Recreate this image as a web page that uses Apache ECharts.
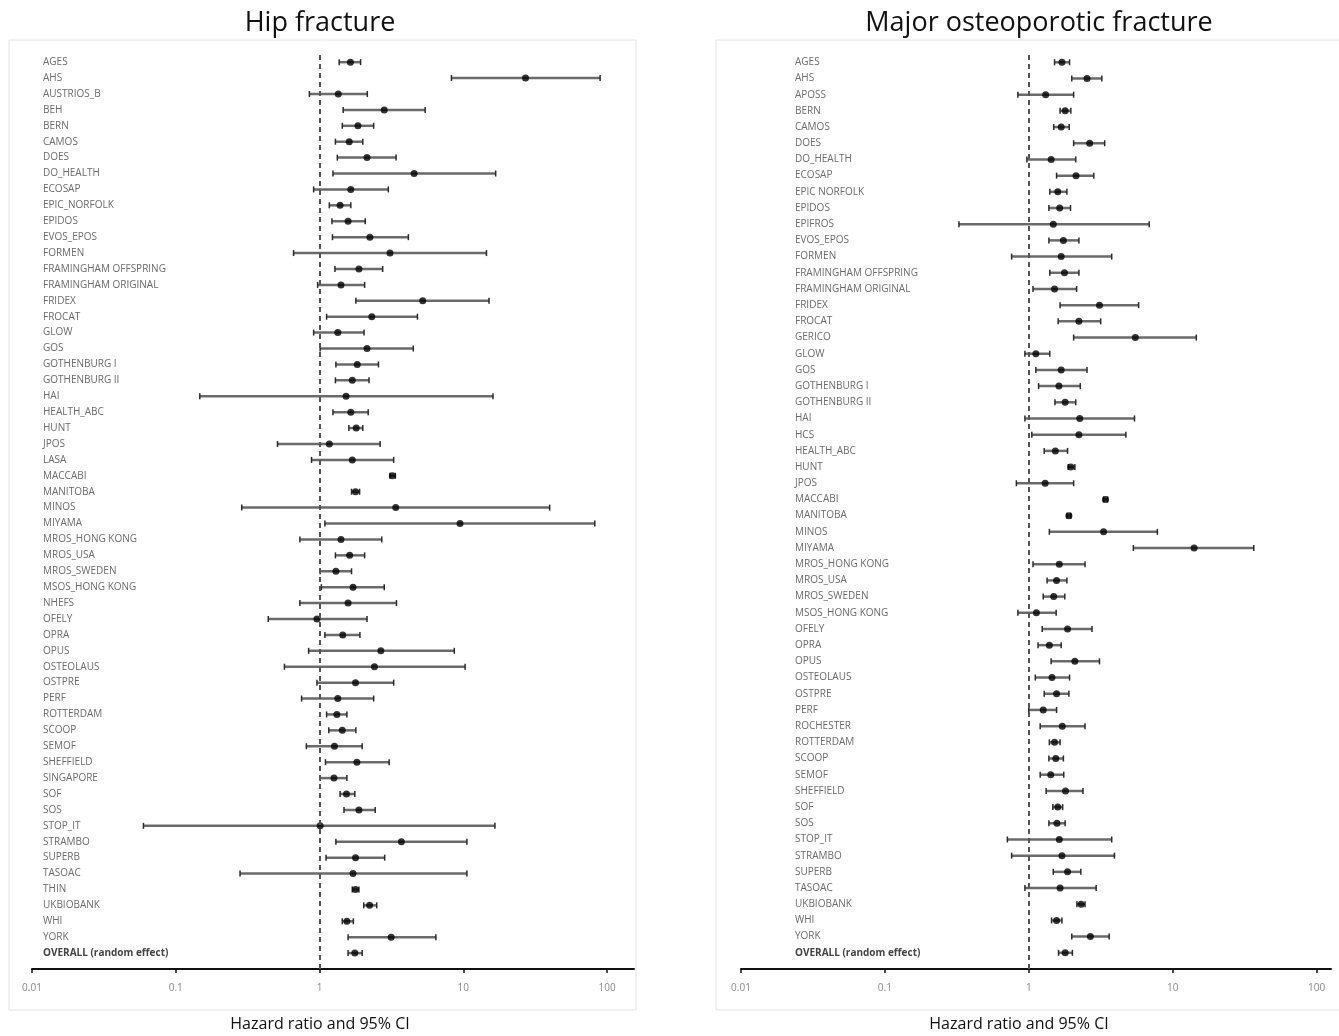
<!DOCTYPE html>
<html>
<head>
<meta charset="utf-8">
<script src="https://cdn.jsdelivr.net/npm/echarts@6/dist/echarts.min.js"></script>
<style>
  html, body { margin: 0; padding: 0; background: #fff; }
  #main { width: 1339px; height: 1036px; }
</style>
</head>
<body>
<div id="main"></div>
<script>
// Hip fracture: study names, hazard ratios and 95% CI
var hipStudies = ['AGES', 'AHS', 'AUSTRIOS_B', 'BEH', 'BERN', 'CAMOS', 'DOES', 'DO_HEALTH', 'ECOSAP', 'EPIC_NORFOLK',
  'EPIDOS', 'EVOS_EPOS', 'FORMEN', 'FRAMINGHAM OFFSPRING', 'FRAMINGHAM ORIGINAL', 'FRIDEX', 'FROCAT', 'GLOW', 'GOS', 'GOTHENBURG I',
  'GOTHENBURG II', 'HAI', 'HEALTH_ABC', 'HUNT', 'JPOS', 'LASA', 'MACCABI', 'MANITOBA', 'MINOS', 'MIYAMA',
  'MROS_HONG KONG', 'MROS_USA', 'MROS_SWEDEN', 'MSOS_HONG KONG', 'NHEFS', 'OFELY', 'OPRA', 'OPUS', 'OSTEOLAUS', 'OSTPRE',
  'PERF', 'ROTTERDAM', 'SCOOP', 'SEMOF', 'SHEFFIELD', 'SINGAPORE', 'SOF', 'SOS', 'STOP_IT', 'STRAMBO',
  'SUPERB', 'TASOAC', 'THIN', 'UKBIOBANK', 'WHI', 'YORK', 'OVERALL (random effect)'];
var hipHR = [1.64, 27.1, 1.35, 2.82, 1.85, 1.61, 2.14, 4.55, 1.65, 1.39,
  1.58, 2.24, 3.09, 1.88, 1.41, 5.22, 2.31, 1.34, 2.14, 1.83,
  1.69, 1.53, 1.65, 1.80, 1.17, 1.69, 3.21, 1.78, 3.39, 9.49,
  1.41, 1.62, 1.30, 1.71, 1.58, 0.96, 1.45, 2.67, 2.41, 1.78,
  1.34, 1.32, 1.44, 1.27, 1.82, 1.26, 1.54, 1.88, 1.01, 3.71,
  1.78, 1.71, 1.78, 2.23, 1.55, 3.15, 1.76];
var hipLow = [1.37, 8.27, 0.85, 1.46, 1.44, 1.29, 1.33, 1.24, 0.91, 1.17,
  1.22, 1.23, 0.66, 1.28, 0.97, 1.79, 1.12, 0.91, 1.01, 1.30,
  1.29, 0.147, 1.24, 1.60, 0.51, 0.88, 3.09, 1.67, 0.288, 1.09,
  0.73, 1.29, 1.01, 1.03, 0.73, 0.44, 1.09, 0.84, 0.57, 0.96,
  0.75, 1.12, 1.16, 0.81, 1.10, 1.01, 1.39, 1.48, 0.0596, 1.30,
  1.11, 0.28, 1.69, 2.03, 1.44, 1.58, 1.58];
var hipHigh = [1.93, 89.5, 2.15, 5.43, 2.38, 2.0, 3.41, 16.8, 3.01, 1.65,
  2.08, 4.15, 14.5, 2.75, 2.06, 15.1, 4.8, 2.04, 4.49, 2.57,
  2.21, 16.1, 2.18, 2.0, 2.64, 3.28, 3.37, 1.90, 39.9, 82.2,
  2.71, 2.06, 1.67, 2.82, 3.43, 2.14, 1.91, 8.66, 10.3, 3.28,
  2.38, 1.55, 1.79, 1.98, 3.05, 1.55, 1.76, 2.44, 16.6, 10.6,
  2.84, 10.6, 1.88, 2.50, 1.72, 6.45, 1.98];

// Major osteoporotic fracture
var mofStudies = ['AGES', 'AHS', 'APOSS', 'BERN', 'CAMOS', 'DOES', 'DO_HEALTH', 'ECOSAP', 'EPIC NORFOLK', 'EPIDOS',
  'EPIFROS', 'EVOS_EPOS', 'FORMEN', 'FRAMINGHAM OFFSPRING', 'FRAMINGHAM ORIGINAL', 'FRIDEX', 'FROCAT', 'GERICO', 'GLOW', 'GOS',
  'GOTHENBURG I', 'GOTHENBURG II', 'HAI', 'HCS', 'HEALTH_ABC', 'HUNT', 'JPOS', 'MACCABI', 'MANITOBA', 'MINOS',
  'MIYAMA', 'MROS_HONG KONG', 'MROS_USA', 'MROS_SWEDEN', 'MSOS_HONG KONG', 'OFELY', 'OPRA', 'OPUS', 'OSTEOLAUS', 'OSTPRE',
  'PERF', 'ROCHESTER', 'ROTTERDAM', 'SCOOP', 'SEMOF', 'SHEFFIELD', 'SOF', 'SOS', 'STOP_IT', 'STRAMBO',
  'SUPERB', 'TASOAC', 'UKBIOBANK', 'WHI', 'YORK', 'OVERALL (random effect)'];
var mofHR = [1.70, 2.54, 1.31, 1.79, 1.68, 2.65, 1.43, 2.13, 1.59, 1.64,
  1.48, 1.74, 1.68, 1.77, 1.51, 3.10, 2.23, 5.50, 1.12, 1.68,
  1.62, 1.79, 2.26, 2.23, 1.53, 1.96, 1.30, 3.41, 1.90, 3.31,
  14.1, 1.63, 1.56, 1.49, 1.13, 1.86, 1.39, 2.09, 1.45, 1.56,
  1.26, 1.71, 1.51, 1.54, 1.42, 1.80, 1.59, 1.57, 1.63, 1.70,
  1.86, 1.65, 2.31, 1.56, 2.68, 1.79];
var mofLow = [1.51, 1.99, 0.84, 1.65, 1.49, 2.05, 0.97, 1.56, 1.40, 1.38,
  0.327, 1.38, 0.76, 1.40, 1.07, 1.65, 1.60, 2.05, 0.94, 1.12,
  1.17, 1.52, 0.94, 1.05, 1.28, 1.88, 0.82, 3.31, 1.84, 1.39,
  5.33, 1.07, 1.34, 1.26, 0.84, 1.24, 1.16, 1.43, 1.11, 1.28,
  1.0, 1.20, 1.39, 1.38, 1.20, 1.32, 1.47, 1.38, 0.71, 0.76,
  1.48, 0.94, 2.16, 1.44, 1.99, 1.61];
var mofHigh = [1.92, 3.22, 2.05, 1.96, 1.91, 3.37, 2.12, 2.83, 1.84, 1.95,
  6.87, 2.23, 3.77, 2.23, 2.15, 5.80, 3.16, 14.6, 1.40, 2.54,
  2.28, 2.12, 5.43, 4.73, 1.86, 2.09, 2.05, 3.53, 1.96, 7.83,
  36.6, 2.46, 1.84, 1.78, 1.55, 2.75, 1.68, 3.10, 1.92, 1.90,
  1.56, 2.46, 1.65, 1.74, 1.75, 2.38, 1.72, 1.79, 3.77, 3.94,
  2.30, 2.94, 2.46, 1.70, 3.62, 2.01];

var panelTitles = ['Hip fracture', 'Major osteoporotic fracture'];
var axisTitle = 'Hazard ratio and 95% CI';

var FONT = '"Open Sans", "DejaVu Sans", sans-serif';
var chart = echarts.init(document.getElementById('main'), null, { renderer: 'canvas' });

function ciItem(params, api) {
  var y = api.value(0);
  var a = api.coord([api.value(1), y]);
  var b = api.coord([api.value(2), y]);
  var h = 3;
  return {
    type: 'group',
    children: [
      { type: 'line', shape: { x1: a[0], y1: a[1], x2: b[0], y2: b[1] }, style: { stroke: '#6a6a6a', lineWidth: 2.5 } },
      { type: 'line', shape: { x1: a[0], y1: a[1] - h, x2: a[0], y2: a[1] + h }, style: { stroke: '#2a2a2a', lineWidth: 1.5 } },
      { type: 'line', shape: { x1: b[0], y1: b[1] - h, x2: b[0], y2: b[1] + h }, style: { stroke: '#2a2a2a', lineWidth: 1.5 } }
    ]
  };
}

function yAxisFor(names, idx, margin) {
  var vals = names.map(function (n, i) { return i; });
  return {
    type: 'value', gridIndex: idx, inverse: true, min: -0.45, max: names.length,
    axisLine: { show: false }, axisTick: { show: false }, splitLine: { show: false },
    axisLabel: {
      inside: true, margin: margin, customValues: vals,
      color: '#6b6b6b', fontFamily: FONT, fontSize: 10,
      formatter: function (v) {
        var n = names[v];
        if (n === undefined) return '';
        return n.indexOf('OVERALL') === 0 ? '{b|' + n + '}' : n;
      },
      rich: { b: { fontWeight: 'bold', color: '#444', fontFamily: FONT, fontSize: 10 } }
    }
  };
}

function xAxisFor(idx, max) {
  return {
    type: 'log', logBase: 10, gridIndex: idx, min: 0.01, max: max, position: 'bottom',
    axisLine: { onZero: false, lineStyle: { color: '#111', width: 2 } },
    axisTick: { length: 4, lineStyle: { color: '#111', width: 1.5 } },
    splitLine: { show: false },
    axisLabel: {
      showMaxLabel: false, color: '#8a8a8a', fontFamily: FONT, fontSize: 10, margin: 14,
      formatter: function (v) { return String(+Number(v).toPrecision(3)); }
    }
  };
}

function seriesFor(idx, names, hr, lo, hi) {
  return [
    {
      type: 'custom', xAxisIndex: idx, yAxisIndex: idx,
      renderItem: ciItem,
      encode: { x: [1, 2], y: 0 },
      data: names.map(function (n, i) { return [i, lo[i], hi[i]]; }),
      z: 2
    },
    {
      type: 'scatter', xAxisIndex: idx, yAxisIndex: idx,
      symbol: 'circle', symbolSize: 7,
      itemStyle: { color: '#000' },
      data: names.map(function (n, i) { return [hr[i], i]; }),
      z: 3,
      markLine: {
        silent: true, symbol: 'none', label: { show: false },
        lineStyle: { color: '#555', type: [5, 4], width: 2 },
        data: [{ xAxis: 1 }]
      }
    }
  ];
}

var option = {
  backgroundColor: '#fff',
  animation: false,
  grid: [
    { left: 32, right: 1339 - 634, top: 55, bottom: 1036 - 969 },
    { left: 741, right: 1339 - 1331, top: 55, bottom: 1036 - 969 }
  ],
  xAxis: [xAxisFor(0, 154), xAxisFor(1, 126)],
  yAxis: [yAxisFor(hipStudies, 0, 11), yAxisFor(mofStudies, 1, 54)],
  series: seriesFor(0, hipStudies, hipHR, hipLow, hipHigh)
    .concat(seriesFor(1, mofStudies, mofHR, mofLow, mofHigh)),
  graphic: [
    { type: 'rect', shape: { x: 9, y: 40, width: 627, height: 970 }, style: { fill: 'none', stroke: '#e2e2e2', lineWidth: 1 }, z: 0 },
    { type: 'rect', shape: { x: 716, y: 40, width: 660, height: 970 }, style: { fill: 'none', stroke: '#e2e2e2', lineWidth: 1 }, z: 0 },
    { type: 'text', x: 320, y: 23, style: { text: panelTitles[0], font: '27px ' + FONT, fill: '#111', textAlign: 'center', textVerticalAlign: 'middle' }, z: 5 },
    { type: 'text', x: 1039, y: 23, style: { text: panelTitles[1], font: '27px ' + FONT, fill: '#111', textAlign: 'center', textVerticalAlign: 'middle' }, z: 5 },
    { type: 'text', x: 320, y: 1024, style: { text: axisTitle, font: '16px ' + FONT, fill: '#111', textAlign: 'center', textVerticalAlign: 'middle' }, z: 5 },
    { type: 'text', x: 1019, y: 1024, style: { text: axisTitle, font: '16px ' + FONT, fill: '#111', textAlign: 'center', textVerticalAlign: 'middle' }, z: 5 }
  ]
};

chart.setOption(option);
</script>
</body>
</html>
